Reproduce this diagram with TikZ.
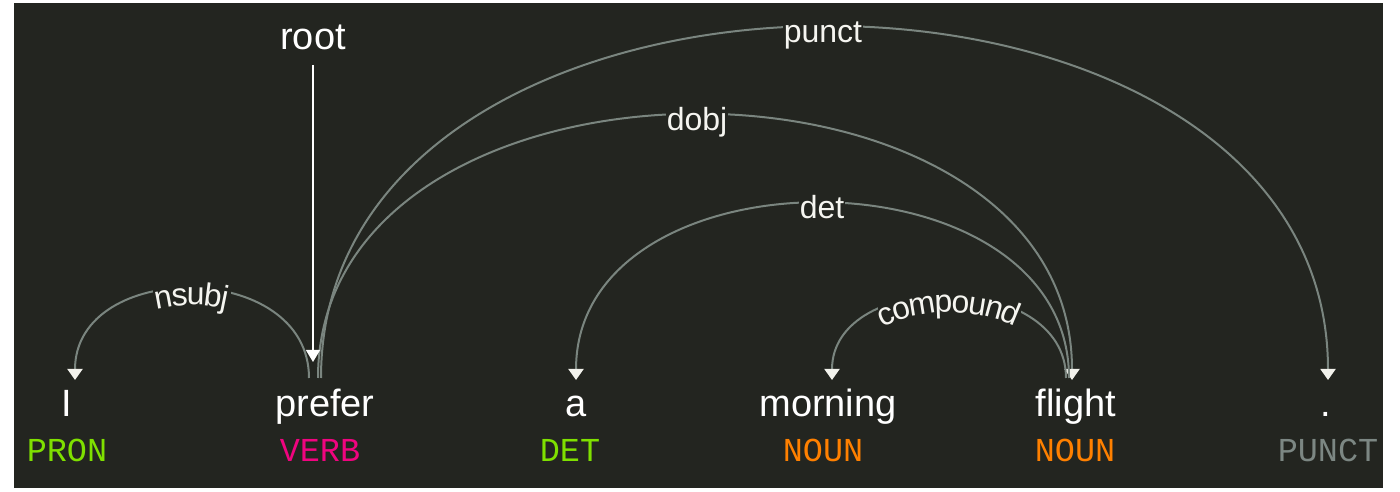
\documentclass[tikz,border=0pt]{standalone}
\usepackage{fontspec}
\setmainfont{Liberation Sans}
\newfontfamily\tagfamily{Liberation Mono}
\usetikzlibrary{arrows.meta,decorations.text}
\definecolor{bgc}{HTML}{232520}
\definecolor{arcc}{HTML}{7A857F}
\definecolor{arrc}{HTML}{F2F2EC}
\definecolor{lblc}{HTML}{F5F5F0}
\definecolor{wordc}{HTML}{FFFFFF}
\definecolor{tgreen}{HTML}{7FE000}
\definecolor{tpink}{HTML}{F0047F}
\definecolor{torange}{HTML}{FF8000}
\definecolor{tgray}{HTML}{7C8783}
\newcommand\wordfont{\fontsize{38}{44}\selectfont}
\newcommand\lblfont{\fontsize{32}{36}\selectfont}
\newcommand\tagfnt{\tagfamily\fontsize{33.5}{38}\selectfont}
\begin{document}
\begin{tikzpicture}[x=1pt,y=1pt,
  word/.style={anchor=base, inner sep=0pt, text=wordc, font=\wordfont},
  postag/.style={anchor=base, inner sep=0pt, font=\tagfnt},
  arcline/.style={draw=arcc, line width=2pt, -{Triangle[width=15pt,length=11pt,color=arrc]}},
  rootline/.style={draw=white, line width=1.5pt, -{Triangle[width=14pt,length=12pt,color=white]}},
  lbl/.style={anchor=base, fill=bgc, inner xsep=1pt, inner ysep=1pt, text=lblc, font=\lblfont},
  curvedlbl/.style={decorate, decoration={text along path, text align=center, raise=-16pt, text color=lblc, text={|\lblfont|#1}}}
]
\useasboundingbox (0,0) rectangle (1400,492);
\fill[white] (0,0) rectangle (1400,492);
\fill[bgc] (14,4) rectangle (1383,489);

% words
\node[word] (I) at (67,75) {I};
\node[word] (prefer) at (325,75) {prefer};
\node[word] (a) at (576,75) {a};
\node[word] (morning) at (828,75) {morning};
\node[word] (flight) at (1076,75) {flight};
\node[word] (dot) at (1326,75) {.};

% tags
\node[postag, text=tgreen] (t1) at (67,30) {PRON};
\node[postag, text=tpink] (t2) at (320,30) {VERB};
\node[postag, text=tgreen] (t3) at (570,30) {DET};
\node[postag, text=torange] (t4) at (823,30) {NOUN};
\node[postag, text=torange] (t5) at (1075,30) {NOUN};
\node[postag, text=tgray] (t6) at (1328,30) {PUNCT};

% arc end points
\coordinate (I-in) at (75,112);
\coordinate (prefer-nsubj) at (309,114);
\coordinate (prefer-dobj) at (318,114);
\coordinate (prefer-punct) at (321,114);
\coordinate (prefer-root) at (313,130);
\coordinate (a-in) at (576,112);
\coordinate (morning-in) at (832,112);
\coordinate (flight-compound) at (1066,114);
\coordinate (flight-det) at (1069,114);
\coordinate (flight-in) at (1072,112);
\coordinate (dot-in) at (1328,112);

% arcs
\draw[arcline] (prefer-nsubj) .. controls +(0,119) and +(0,121) .. (I-in);
\draw[arcline] (prefer-punct) .. controls +(0,468) and +(0,470) .. (dot-in);
\draw[arcline] (prefer-dobj) .. controls +(0,351) and +(0,353) .. (flight-in);
\draw[arcline] (flight-det) .. controls +(0,233) and +(0,235) .. (a-in);
\draw[arcline] (flight-compound) .. controls +(0,109) and +(0,111) .. (morning-in);

% masks under curved labels
\fill[bgc] (153,195) rectangle (231,207);
\fill[bgc] (878,175) rectangle (1021,200);

% curved labels
\path[curvedlbl=nsubj] (I-in) .. controls +(0,121) and +(0,119) .. (prefer-nsubj);
\path[curvedlbl=compound] (morning-in) .. controls +(0,111) and +(0,109) .. (flight-compound);

% straight labels
\node[lbl] (l-punct) at (823,449) {punct};
\node[lbl] (l-dobj) at (697,361) {dobj};
\node[lbl] (l-det) at (822,273) {det};

% root
\node[word] (root) at (313,442) {root};
\draw[rootline, shorten <=15pt] (root.base) -- (prefer-root);
\end{tikzpicture}
\end{document}
